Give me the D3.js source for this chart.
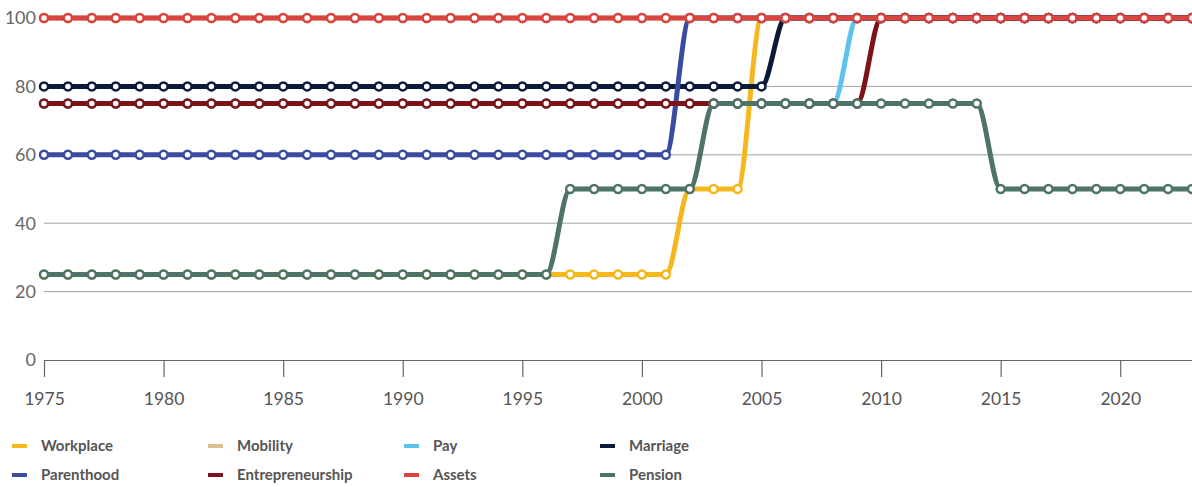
<!DOCTYPE html>
<html>
<head>
<meta charset="utf-8">
<script src="https://cdn.jsdelivr.net/npm/d3@7"></script>
<style>
  html, body { margin: 0; padding: 0; background: #fff; }
  svg { display: block; }
</style>
</head>
<body>
<svg id="chart" width="1192" height="487"></svg>
<script>
// Years covered by every series
const years = d3.range(1975, 2024);

// Series names in drawing / legend order
const seriesNames = ["Workplace", "Mobility", "Pay", "Marriage", "Parenthood", "Entrepreneurship", "Assets", "Pension"];
const seriesColors = ["#f5b71e", "#dcc08e", "#5ec3ec", "#0c1a3a", "#3a4ca2", "#7b1319", "#d9443f", "#4e7367"];

// Index scores per year (1975..2023)
const workplace = [
  25,25,25,25,25,25,25,25,25,25, 25,25,25,25,25,25,25,25,25,25,
  25,25,25,25,25,25,25,50,50,50, 100,100,100,100,100,100,100,100,100,100,
  100,100,100,100,100,100,100,100,100];
const mobility = [
  100,100,100,100,100,100,100,100,100,100, 100,100,100,100,100,100,100,100,100,100,
  100,100,100,100,100,100,100,100,100,100, 100,100,100,100,100,100,100,100,100,100,
  100,100,100,100,100,100,100,100,100];
const pay = [
  75,75,75,75,75,75,75,75,75,75, 75,75,75,75,75,75,75,75,75,75,
  75,75,75,75,75,75,75,75,75,75, 75,75,75,75,100,100,100,100,100,100,
  100,100,100,100,100,100,100,100,100];
const marriage = [
  80,80,80,80,80,80,80,80,80,80, 80,80,80,80,80,80,80,80,80,80,
  80,80,80,80,80,80,80,80,80,80, 80,100,100,100,100,100,100,100,100,100,
  100,100,100,100,100,100,100,100,100];
const parenthood = [
  60,60,60,60,60,60,60,60,60,60, 60,60,60,60,60,60,60,60,60,60,
  60,60,60,60,60,60,60,100,100,100, 100,100,100,100,100,100,100,100,100,100,
  100,100,100,100,100,100,100,100,100];
const entrepreneurship = [
  75,75,75,75,75,75,75,75,75,75, 75,75,75,75,75,75,75,75,75,75,
  75,75,75,75,75,75,75,75,75,75, 75,75,75,75,75,100,100,100,100,100,
  100,100,100,100,100,100,100,100,100];
const assets = [
  100,100,100,100,100,100,100,100,100,100, 100,100,100,100,100,100,100,100,100,100,
  100,100,100,100,100,100,100,100,100,100, 100,100,100,100,100,100,100,100,100,100,
  100,100,100,100,100,100,100,100,100];
const pension = [
  25,25,25,25,25,25,25,25,25,25, 25,25,25,25,25,25,25,25,25,25,
  25,25,50,50,50,50,50,50,75,75, 75,75,75,75,75,75,75,75,75,75,
  50,50,50,50,50,50,50,50,50];

// Axis ticks
const yTicks = [0, 20, 40, 60, 80, 100];
const xTicks = [1975, 1980, 1985, 1990, 1995, 2000, 2005, 2010, 2015, 2020];

const seriesValues = [workplace, mobility, pay, marriage, parenthood, entrepreneurship, assets, pension];
const series = seriesNames.map((name, i) => ({
  name,
  color: seriesColors[i],
  points: years.map((yr, j) => ({ year: yr, value: seriesValues[i][j] }))
}));

const svg = d3.select("#chart");
const W = 1192;

const x = d3.scaleLinear().domain([1975, 2023]).range([44, 1192]);
const y = d3.scaleLinear().domain([0, 100]).range([360, 18]);

const font = "Lato, 'Open Sans', sans-serif";

// Horizontal gridlines
svg.append("g")
  .selectAll("line")
  .data(yTicks.filter(t => t > 0))
  .join("line")
  .attr("x1", x(1975)).attr("x2", W)
  .attr("y1", d => y(d)).attr("y2", d => y(d))
  .attr("stroke", "#a3a3a3")
  .attr("stroke-width", 1);

// Y axis labels
svg.append("g")
  .selectAll("text")
  .data(yTicks)
  .join("text")
  .attr("x", 36)
  .attr("y", d => y(d))
  .attr("dy", "0.35em")
  .attr("text-anchor", "end")
  .attr("font-family", font)
  .attr("font-size", 18)
  .attr("fill", "#666")
  .text(d => d);

// X axis
const xAxis = d3.axisBottom(x)
  .tickValues(xTicks)
  .tickFormat(d3.format("d"))
  .tickSize(17)
  .tickPadding(16);
const gx = svg.append("g")
  .attr("transform", `translate(0,${y(0)})`)
  .call(xAxis);
gx.select(".domain").remove();
gx.append("line")
  .attr("x1", x(1975)).attr("x2", W)
  .attr("y1", 0.5).attr("y2", 0.5)
  .attr("stroke", "#666").attr("stroke-width", 1.2);
gx.selectAll(".tick line").attr("stroke", "#666").attr("stroke-width", 1.2);
gx.selectAll(".tick text")
  .attr("font-family", font)
  .attr("font-size", 17.5)
  .attr("fill", "#555");

// Series lines with dot markers
const line = d3.line()
  .x(d => x(d.year))
  .y(d => y(d.value))
  .curve(d3.curveMonotoneX);

const gSeries = svg.append("g");
series.forEach(s => {
  const g = gSeries.append("g");
  g.append("path")
    .datum(s.points)
    .attr("d", line)
    .attr("fill", "none")
    .attr("stroke", s.color)
    .attr("stroke-width", 5);
  g.selectAll("circle")
    .data(s.points)
    .join("circle")
    .attr("cx", d => x(d.year))
    .attr("cy", d => y(d.value))
    .attr("r", 4)
    .attr("fill", "#fff")
    .attr("stroke", s.color)
    .attr("stroke-width", 2.5);
});

// Legend: four columns, two rows
const legend = svg.append("g");
series.forEach((s, i) => {
  const col = i % 4, row = Math.floor(i / 4);
  const lx = 12 + col * 196;
  const ly = 446 + row * 29;
  legend.append("rect")
    .attr("x", lx).attr("y", ly - 2)
    .attr("width", 15).attr("height", 4)
    .attr("fill", s.color);
  legend.append("text")
    .attr("x", lx + 29).attr("y", ly)
    .attr("dy", "0.35em")
    .attr("font-family", font)
    .attr("font-weight", 700)
    .attr("font-size", 15)
    .attr("fill", "#555")
    .text(s.name);
});
</script>
</body>
</html>
